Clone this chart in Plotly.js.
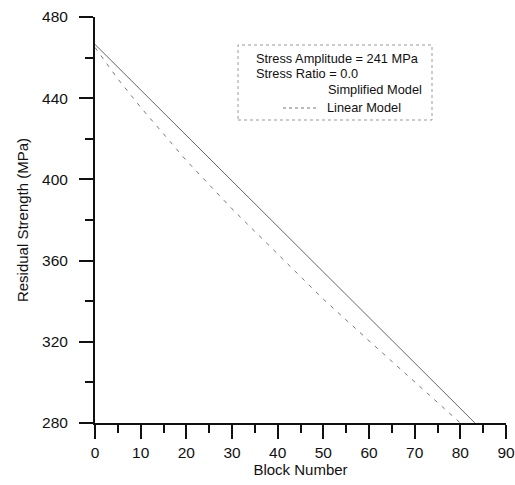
<!DOCTYPE html>
<html>
<head>
<meta charset="utf-8">
<script src="https://cdn.plot.ly/plotly-3.0.1.min.js"></script>
<style>html,body{margin:0;padding:0;background:#fff;}#chart{width:515px;height:485px;}</style>
</head>
<body>
<div id="chart"></div>
<script>
// Data
const simplifiedBlocks = [0, 20, 40, 60, 83.2];
const simplifiedStrength = [466.5, 421.8, 377, 332, 280];
const linearBlocks = [0, 5, 10, 20, 30, 40, 50, 60, 70, 80];
const linearStrength = [465, 449.5, 435.5, 409.3, 385.5, 363, 341, 320.5, 300.3, 280];
const xTicks = [0, 10, 20, 30, 40, 50, 60, 70, 80, 90];
const yTicks = [280, 320, 360, 400, 440, 480];
const legendLines = ["Stress Amplitude = 241 MPa", "Stress Ratio = 0.0", "Simplified Model", "Linear Model"];

const font = "Liberation Sans, Arial, Helvetica, sans-serif";
const L = 95, W = 411, B = 423, H = 406;
const px = v => (v - L) / W;
const py = v => (B - v) / H;

const traces = [
  {x: simplifiedBlocks, y: simplifiedStrength, mode: "lines", name: "Simplified Model",
   line: {color: "#666", width: 1}},
  {x: linearBlocks, y: linearStrength, mode: "lines", name: "Linear Model",
   line: {color: "#777", width: 1, dash: "4px,6px"}}
];

const annFont = {size: 12.8, family: font, color: "#111"};

const layout = {
  width: 515, height: 485,
  margin: {l: 95, r: 9, t: 17, b: 62},
  paper_bgcolor: "#fff", plot_bgcolor: "#fff",
  showlegend: false,
  font: {family: font, color: "#111", size: 15},
  xaxis: {
    range: [0, 90], tickvals: xTicks, ticktext: xTicks.map(String),
    showgrid: false, zeroline: false, showline: true, linecolor: "#111", linewidth: 2,
    ticks: "outside", ticklen: 14, tickwidth: 2, tickcolor: "#111",
    minor: {dtick: 5, ticks: "outside", ticklen: 8, tickwidth: 2, tickcolor: "#111", showgrid: false},
    tickfont: {size: 15.5, family: font},
    title: {text: "Block Number", font: {size: 15, family: font}, standoff: 0}
  },
  yaxis: {
    range: [280, 480], tickvals: yTicks, ticktext: yTicks.map(String),
    showgrid: false, zeroline: false, showline: true, linecolor: "#111", linewidth: 2,
    ticks: "outside", ticklen: 14, tickwidth: 2, tickcolor: "#111", ticklabelstandoff: 8,
    minor: {dtick: 20, ticks: "outside", ticklen: 8, tickwidth: 2, tickcolor: "#111", showgrid: false},
    tickfont: {size: 15.5, family: font},
    title: {text: "Residual Strength (MPa)", font: {size: 15, family: font}, standoff: 10}
  },
  shapes: [
    {type: "rect", xref: "paper", yref: "paper",
     x0: px(238), x1: px(432), y0: py(120), y1: py(45),
     line: {color: "#999", width: 1, dash: "dot"}},
    {type: "line", xref: "paper", yref: "paper",
     x0: px(283), x1: px(318), y0: py(108), y1: py(108),
     line: {color: "#777", width: 1, dash: "3px,3px"}}
  ],
  annotations: [
    {text: legendLines[0], xref: "paper", yref: "paper", x: px(254), y: py(58.5),
     xanchor: "left", yanchor: "middle", showarrow: false, font: annFont},
    {text: legendLines[1], xref: "paper", yref: "paper", x: px(254), y: py(73),
     xanchor: "left", yanchor: "middle", showarrow: false, font: annFont},
    {text: legendLines[2], xref: "paper", yref: "paper", x: px(424), y: py(90),
     xanchor: "right", yanchor: "middle", showarrow: false, font: annFont},
    {text: legendLines[3], xref: "paper", yref: "paper", x: px(325), y: py(107.5),
     xanchor: "left", yanchor: "middle", showarrow: false, font: annFont}
  ]
};

Plotly.newPlot("chart", traces, layout, {displayModeBar: false, staticPlot: true});
</script>
</body>
</html>
